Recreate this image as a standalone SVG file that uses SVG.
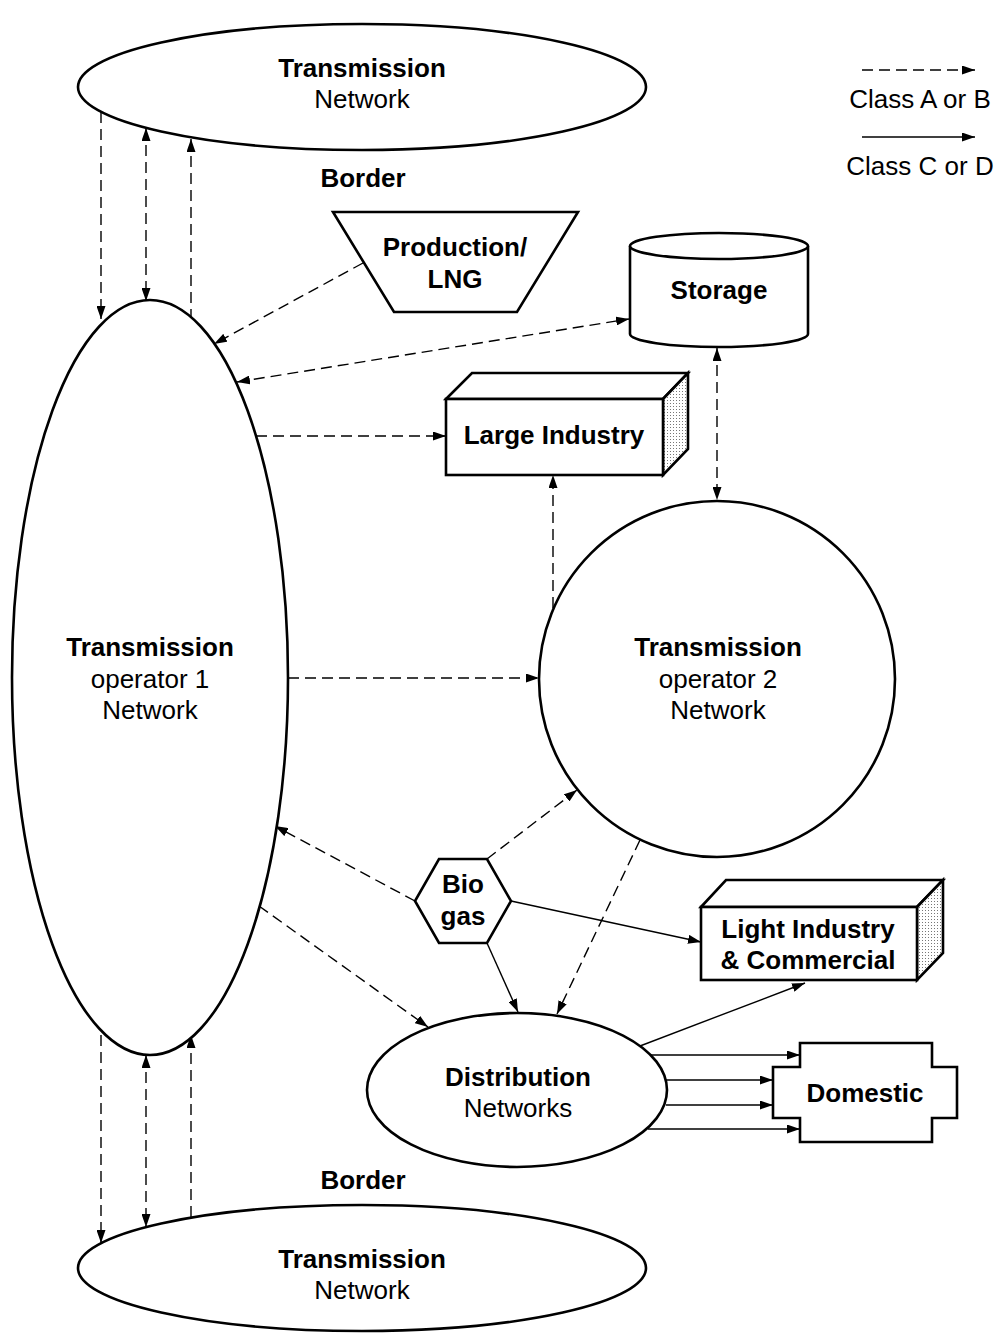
<svg xmlns="http://www.w3.org/2000/svg" width="997" height="1339" viewBox="0 0 997 1339">
<style>
.shape{fill:#fff;stroke:#000;stroke-width:2.6;stroke-linejoin:miter}
.t{font-family:"Liberation Sans",Arial,sans-serif;font-size:26px;fill:#000;text-anchor:middle}
.b{font-weight:bold}
.c{fill:none;stroke:#000;stroke-width:1.4}
.d{stroke-dasharray:11,6}
.e{marker-end:url(#ah)}
.s{marker-start:url(#ah)}
</style>
<defs>
<marker id="ah" markerUnits="userSpaceOnUse" markerWidth="14" markerHeight="9" refX="13" refY="4.5" orient="auto-start-reverse" viewBox="0 0 14 9">
<path d="M0,0 L13,4.5 L0,9 z" fill="#000"/>
</marker>
<pattern id="dots" patternUnits="userSpaceOnUse" width="3" height="3">
<rect width="3" height="3" fill="#fff"/>
<rect x="1" y="1" width="1" height="1" fill="#777"/>
</pattern>
</defs>
<g id="connectors">
<line class="c d e" x1="101" y1="112" x2="101" y2="319"/>
<line class="c d e s" x1="146" y1="128" x2="146" y2="301"/>
<line class="c d e" x1="191" y1="320" x2="191" y2="139"/>
<line class="c d e" x1="101" y1="1035" x2="101" y2="1243"/>
<line class="c d e s" x1="146" y1="1055" x2="146" y2="1227"/>
<line class="c d e" x1="191" y1="1217" x2="191" y2="1035"/>
<line class="c d e" x1="363" y1="263" x2="214" y2="344"/>
<line class="c d e s" x1="237" y1="382" x2="629" y2="319"/>
<line class="c d e" x1="256" y1="436" x2="446" y2="436"/>
<line class="c d e" x1="553" y1="608" x2="553" y2="475"/>
<line class="c d e s" x1="717" y1="348" x2="717" y2="500"/>
<line class="c d e" x1="288" y1="678" x2="539" y2="678"/>
<line class="c d e" x1="415" y1="901" x2="275" y2="826"/>
<line class="c d e" x1="487" y1="859" x2="577" y2="790"/>
<line class="c e" x1="511" y1="901" x2="701" y2="942"/>
<line class="c e" x1="487" y1="943" x2="518" y2="1012"/>
<line class="c d e" x1="259" y1="906" x2="428" y2="1027"/>
<line class="c d e" x1="640" y1="840" x2="557" y2="1014"/>
<line class="c e" x1="640" y1="1046" x2="805" y2="983"/>
<line class="c e" x1="651" y1="1055" x2="800" y2="1055"/>
<line class="c e" x1="666" y1="1080" x2="773" y2="1080"/>
<line class="c e" x1="666" y1="1105" x2="773" y2="1105"/>
<line class="c e" x1="648" y1="1129" x2="800" y2="1129"/>
</g>
<g id="legend">
<line class="c d e" x1="862" y1="70" x2="975" y2="70"/>
<text class="t" x="920" y="108">Class A or B</text>
<line class="c e" x1="862" y1="137" x2="975" y2="137"/>
<text class="t" x="920" y="175">Class C or D</text>
</g>
<g id="transmission-top">
<ellipse class="shape" cx="362" cy="87" rx="284" ry="63"/>
<text class="t b" x="362" y="77">Transmission</text>
<text class="t" x="362" y="108">Network</text>
</g>
<g id="border-top">
<text class="t b" x="363" y="187">Border</text>
</g>
<g id="production">
<polygon class="shape" points="333,212 578,212 517,312 394,312"/>
<text class="t b" x="455" y="256">Production/</text>
<text class="t b" x="455" y="288">LNG</text>
</g>
<g id="storage">
<path class="shape" d="M630,246 L630,334 A89,13 0 0 0 808,334 L808,246"/>
<ellipse class="shape" cx="719" cy="246" rx="89" ry="13"/>
<text class="t b" x="719" y="299">Storage</text>
</g>
<g id="large-industry">
<polygon class="shape" points="446,399 472,373 688,373 663,399"/>
<polygon class="shape" style="fill:url(#dots)" points="663,399 688,373 688,449 663,475"/>
<rect class="shape" x="446" y="399" width="217" height="76"/>
<text class="t b" x="554" y="444">Large Industry</text>
</g>
<g id="operator1">
<ellipse class="shape" cx="150" cy="677.5" rx="138" ry="377.5"/>
<text class="t b" x="150" y="656">Transmission</text>
<text class="t" x="150" y="688">operator 1</text>
<text class="t" x="150" y="719">Network</text>
</g>
<g id="operator2">
<circle class="shape" cx="717" cy="679" r="178"/>
<text class="t b" x="718" y="656">Transmission</text>
<text class="t" x="718" y="688">operator 2</text>
<text class="t" x="718" y="719">Network</text>
</g>
<g id="biogas">
<polygon class="shape" points="439,859 487,859 511,901 487,943 439,943 415,901"/>
<text class="t b" x="463" y="893">Bio</text>
<text class="t b" x="463" y="925">gas</text>
</g>
<g id="light-industry">
<polygon class="shape" points="701,907 726,880 943,880 917,907"/>
<polygon class="shape" style="fill:url(#dots)" points="917,907 943,880 943,953 917,980"/>
<rect class="shape" x="701" y="907" width="216" height="73"/>
<text class="t b" x="808" y="938">Light Industry</text>
<text class="t b" x="808" y="969">&amp; Commercial</text>
</g>
<g id="distribution">
<ellipse class="shape" cx="517" cy="1090" rx="150" ry="77"/>
<text class="t b" x="518" y="1086">Distribution</text>
<text class="t" x="518" y="1117">Networks</text>
</g>
<g id="domestic">
<polygon class="shape" points="800,1043 932,1043 932,1067 957,1067 957,1118 932,1118 932,1142 800,1142 800,1118 773,1118 773,1067 800,1067"/>
<text class="t b" x="865" y="1102">Domestic</text>
</g>
<g id="border-bottom">
<text class="t b" x="363" y="1189">Border</text>
</g>
<g id="transmission-bottom">
<ellipse class="shape" cx="362" cy="1268" rx="284" ry="63"/>
<text class="t b" x="362" y="1268">Transmission</text>
<text class="t" x="362" y="1299">Network</text>
</g>
</svg>
